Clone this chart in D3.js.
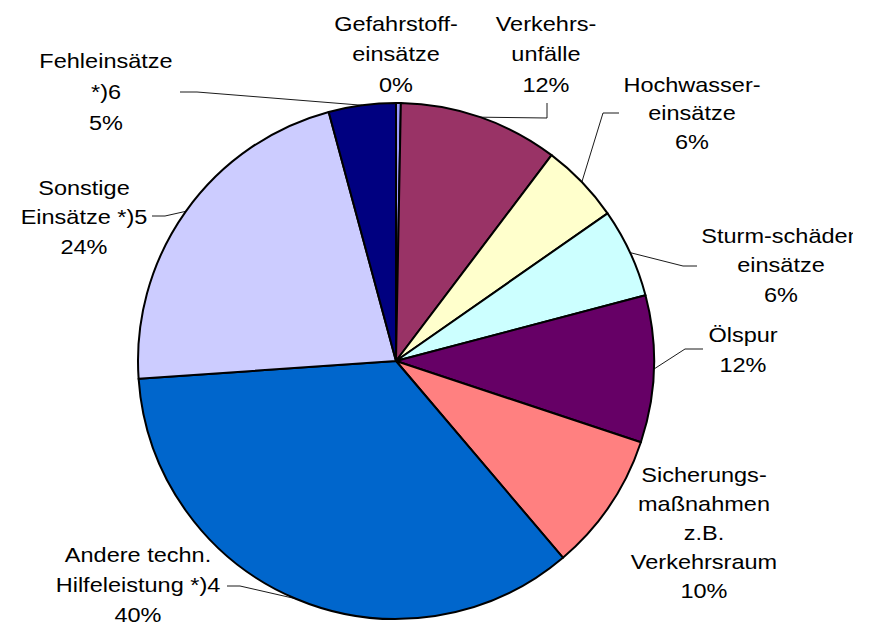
<!DOCTYPE html>
<html><head><meta charset="utf-8">
<script src="https://cdn.jsdelivr.net/npm/d3@7"></script>
<style>html,body{margin:0;padding:0;background:#fff;overflow:hidden}svg{display:block}</style>
</head><body>
<script>
// Data (slice shares, percent)
const categories = ["Gefahrstoffeinsätze","Verkehrsunfälle","Hochwassereinsätze","Sturmschädeneinsätze","Ölspur","Sicherungsmaßnahmen","Andere techn. Hilfeleistung","Sonstige Einsätze","Fehleinsätze"];
const values = [0.3, 10.0, 5.0, 5.6, 9.2, 8.7, 35.1, 21.9, 4.2];
const labelLines = [
  ["Gefahrstoff-","einsätze","0%"],
  ["Verkehrs-","unfälle","12%"],
  ["Hochwasser-","einsätze","6%"],
  ["Sturm-schäden","einsätze","6%"],
  ["Ölspur","12%"],
  ["Sicherungs-","maßnahmen","z.B.","Verkehrsraum","10%"],
  ["Andere techn.","Hilfeleistung *)4","40%"],
  ["Sonstige","Einsätze *)5","24%"],
  ["Fehleinsätze","*)6","5%"]
];
const colors = ["#9999FF","#993366","#FFFFCC","#CCFFFF","#660066","#FF8080","#0066CC","#CCCCFF","#000080"];

// Layout
const W = 874, H = 627;
const cx = 396, cy = 361, R = 258;
const labelPos = [
  {x:396, y:31, leader:null},
  {x:546, y:31, leader:[[547,118],[547,103]]},
  {x:692, y:92, leader:[[603,113],[619,113]]},
  {x:781, y:243, leader:[[683,266],[697,266]]},
  {x:743, y:342, leader:[[685,349],[703,349]]},
  {x:704, y:482, leader:null},
  {x:138, y:562, leader:[[240,586],[227,586]]},
  {x:84, y:195, leader:[[165,216],[152,216]]},
  {x:106, y:68, leader:[[197,92],[180,92]]}
];
const lineHs = [30.5,30.5,28.5,29.5,30,29,30,29.5,31];

const svg = d3.select("body").append("svg").attr("width", W).attr("height", H);
svg.append("defs").append("clipPath").attr("id","plotClip")
  .append("rect").attr("x",0).attr("y",0).attr("width",853).attr("height",H);

const pie = d3.pie().sort(null).value(d => d)(values);
const arc = d3.arc().innerRadius(0).outerRadius(R);

const g = svg.append("g").attr("transform", `translate(${cx},${cy})`);
g.selectAll("path.slice").data(pie).join("path")
  .attr("class","slice")
  .attr("d", arc)
  .attr("fill", (d,i) => colors[i])
  .attr("stroke", "#000")
  .attr("stroke-width", 2)
  .attr("stroke-linejoin","round");

// leader lines
pie.forEach((d,i) => {
  const lp = labelPos[i];
  if (!lp.leader) return;
  const a = (d.startAngle + d.endAngle)/2;
  const sx = cx + Math.sin(a)*R, sy = cy - Math.cos(a)*R;
  const pts = [[sx,sy]].concat(lp.leader);
  svg.append("path")
    .attr("d", d3.line()(pts))
    .attr("fill","none").attr("stroke","#000").attr("stroke-width",0.9);
});

// labels
const lg = svg.append("g").attr("clip-path","url(#plotClip)");
labelLines.forEach((lines,i) => {
  const lp = labelPos[i];
  const t = lg.append("g").attr("transform", `translate(${lp.x},${lp.y}) scale(1.12,1)`);
  lines.forEach((s,k) => {
    t.append("text")
      .attr("x", 0).attr("y", k*lineHs[i])
      .attr("text-anchor","middle")
      .attr("font-family","'Liberation Sans', Arial, sans-serif")
      .attr("font-size", 21)
      .attr("fill","#000")
      .text(s);
  });
});
</script>
</body></html>
